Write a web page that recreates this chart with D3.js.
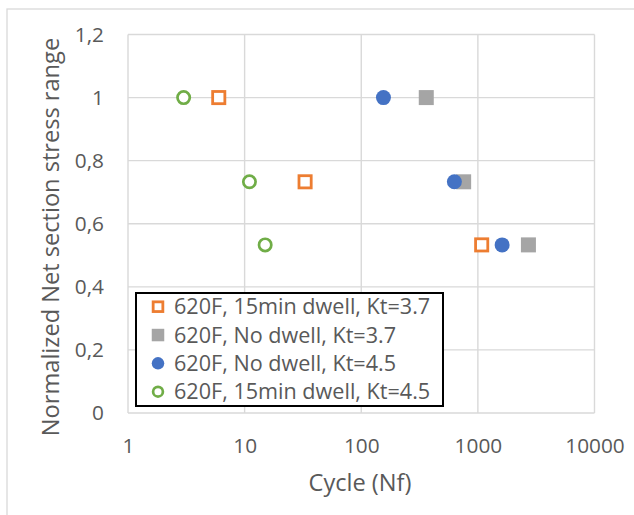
<!DOCTYPE html>
<html>
<head>
<meta charset="utf-8">
<script src="https://cdn.jsdelivr.net/npm/d3@7"></script>
<style>
  html, body { margin: 0; padding: 0; background: #fff; }
  svg { display: block; }
  text { font-family: "Open Sans", Lato, sans-serif; fill: #595959; }
</style>
</head>
<body>
<svg id="chart" width="634" height="515"></svg>
<script>
// Fatigue results: cycles to failure vs normalized net section stress range
const seriesNames = [
  "620F, 15min dwell, Kt=3.7",
  "620F, No dwell, Kt=3.7",
  "620F, No dwell, Kt=4.5",
  "620F, 15min dwell, Kt=4.5"
];
const stressLevels = [1, 0.733, 0.533];
const cycles15minKt37 = [6, 33, 1078];
const cyclesNoDwellKt37 = [361, 755, 2713];
const cyclesNoDwellKt45 = [155, 629, 1614];
const cycles15minKt45 = [3, 11, 15];
const xTicks = [1, 10, 100, 1000, 10000];
const yTicks = [0, 0.2, 0.4, 0.6, 0.8, 1, 1.2];

const series = [
  { name: seriesNames[0], cycles: cycles15minKt37, shape: "square", filled: false, color: "#ED7D31" },
  { name: seriesNames[1], cycles: cyclesNoDwellKt37, shape: "square", filled: true, color: "#A5A5A5" },
  { name: seriesNames[2], cycles: cyclesNoDwellKt45, shape: "circle", filled: true, color: "#4472C4" },
  { name: seriesNames[3], cycles: cycles15minKt45, shape: "circle", filled: false, color: "#70AD47" }
];

const TICK_SIZE = 20.8, LEGEND_SIZE = 21.6, TITLE_SIZE = 23.6;
const svg = d3.select("#chart");
const plot = { left: 128, right: 594.5, top: 34.5, bottom: 413 };

const x = d3.scaleLog().domain([1, 10000]).range([plot.left, plot.right]);
const y = d3.scaleLinear().domain([0, 1.2]).range([plot.bottom, plot.top]);

// chart area frame
svg.append("rect")
  .attr("x", 7).attr("y", 9).attr("width", 700).attr("height", 600)
  .attr("fill", "none").attr("stroke", "#d9d9d9").attr("stroke-width", 1.3);

// gridlines
const grid = svg.append("g").attr("stroke", "#d9d9d9").attr("stroke-width", 1.4);
grid.selectAll("line.h").data(yTicks).join("line")
  .attr("x1", plot.left).attr("x2", plot.right)
  .attr("y1", d => y(d)).attr("y2", d => y(d));
grid.selectAll("line.v").data(xTicks).join("line")
  .attr("y1", plot.top).attr("y2", plot.bottom)
  .attr("x1", d => x(d)).attr("x2", d => x(d));

// tick labels through d3 axes (domain line and tick marks hidden)
const fmtComma = d => String(+d.toFixed(1)).replace(".", ",");
const yAxis = svg.append("g")
  .attr("transform", `translate(${plot.left},0)`)
  .call(d3.axisLeft(y).tickValues(yTicks).tickFormat(fmtComma).tickSize(0).tickPadding(24));
const xAxis = svg.append("g")
  .attr("transform", `translate(0,${plot.bottom})`)
  .call(d3.axisBottom(x).tickValues(xTicks).tickFormat(d3.format("d")).tickSize(0).tickPadding(25));
[yAxis, xAxis].forEach(a => {
  a.select(".domain").remove();
  a.selectAll("text").attr("font-size", TICK_SIZE).attr("fill", "#595959")
    .attr("font-family", "'Open Sans', Lato, sans-serif");
});

// axis titles
svg.append("text")
  .attr("x", 360).attr("y", 491)
  .attr("text-anchor", "middle").attr("font-size", TITLE_SIZE)
  .text("Cycle (Nf)");
svg.append("text")
  .attr("transform", `translate(59,237) rotate(-90)`)
  .attr("text-anchor", "middle").attr("font-size", TITLE_SIZE)
  .text("Normalized Net section stress range");

// marker drawing
function drawMarker(g, s, cx, cy, size) {
  if (s.shape === "square") {
    const sw = s.filled ? 0 : 2.8;
    const side = size - sw;
    g.append("rect")
      .attr("x", cx - side / 2).attr("y", cy - side / 2)
      .attr("width", side).attr("height", side)
      .attr("fill", s.filled ? s.color : "#fff")
      .attr("stroke", s.filled ? "none" : s.color)
      .attr("stroke-width", sw);
  } else {
    const sw = s.filled ? 0 : 2.7;
    g.append("circle")
      .attr("cx", cx).attr("cy", cy).attr("r", (size - sw) / 2)
      .attr("fill", s.filled ? s.color : "#fff")
      .attr("stroke", s.filled ? "none" : s.color)
      .attr("stroke-width", sw);
  }
}

const marks = svg.append("g");
series.forEach(s => {
  const g = marks.append("g");
  s.cycles.forEach((c, i) => drawMarker(g, s, x(c), y(stressLevels[i]), 15));
});

// legend
const legend = svg.append("g");
legend.append("rect")
  .attr("x", 136).attr("y", 293).attr("width", 307).attr("height", 113)
  .attr("fill", "#fff").attr("stroke", "#000").attr("stroke-width", 2);
const rowY = d3.scalePoint().domain(d3.range(series.length)).range([306.7, 391.7]);
series.forEach((s, i) => {
  const g = legend.append("g");
  drawMarker(g, s, 158, rowY(i), 12.5);
  g.append("text")
    .attr("x", 174).attr("y", rowY(i)).attr("dy", "0.36em")
    .attr("font-size", LEGEND_SIZE)
    .text(s.name);
});
</script>
</body>
</html>
